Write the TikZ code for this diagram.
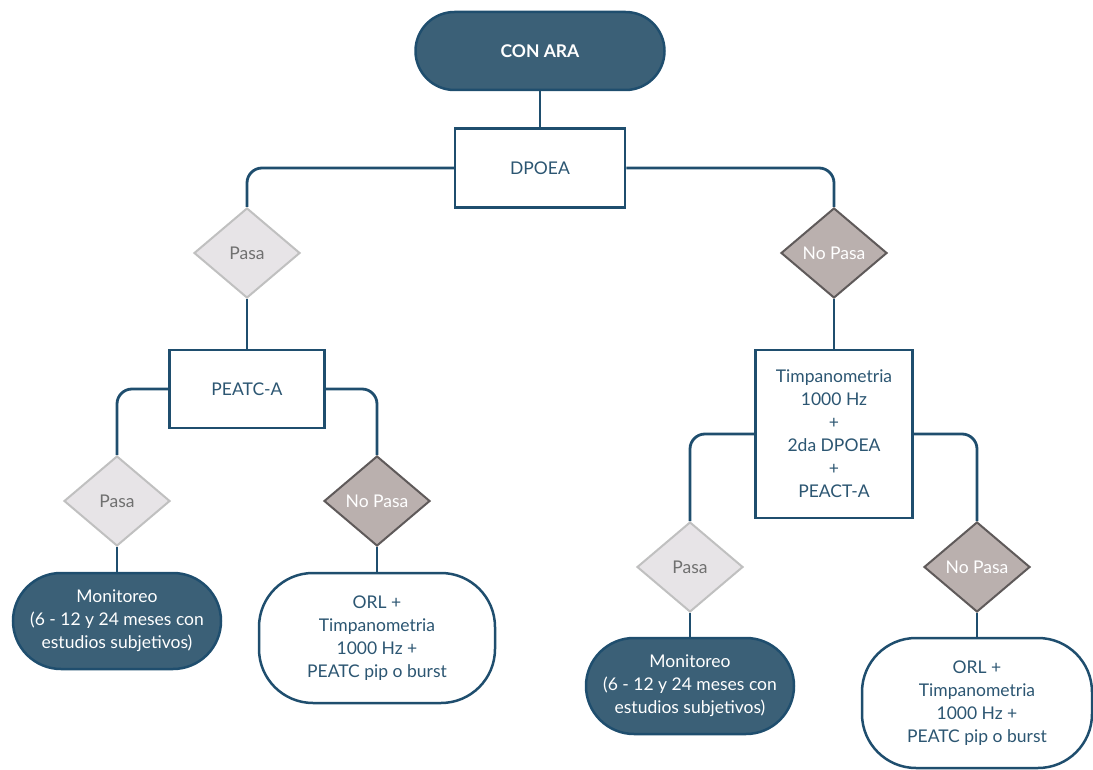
\documentclass[tikz,border=0pt]{standalone}
\usepackage{fontspec}
\setmainfont{Lato}
\usetikzlibrary{shapes.geometric,backgrounds}
\definecolor{navyfill}{RGB}{59,96,119}
\definecolor{navyline}{RGB}{31,78,110}
\definecolor{boxtext}{RGB}{44,86,114}
\definecolor{pasafill}{RGB}{231,228,231}
\definecolor{pasaline}{RGB}{192,192,192}
\definecolor{pasatext}{RGB}{112,112,112}
\definecolor{nopasafill}{RGB}{186,176,174}
\definecolor{nopasaline}{RGB}{95,90,90}
\begin{document}
\begin{tikzpicture}[x=1pt, y=-1pt,
        every node/.style={font=\fontsize{17.5}{23}\selectfont, align=center},
        startnode/.style={rectangle, rounded corners=39pt, draw=navyline, line width=2.5pt, fill=navyfill, text=white, minimum width=249pt, minimum height=78pt},
        endnode/.style={rectangle, rounded corners=48pt, draw=navyline, line width=2.5pt, fill=navyfill, text=white, minimum width=208pt, minimum height=96pt},
        orlnode/.style={rectangle, rounded corners=54pt, draw=navyline, line width=2.5pt, fill=white, text=boxtext, minimum width=236pt, minimum height=130pt},
        testbox/.style={rectangle, draw=navyline, line width=2.5pt, fill=white, text=boxtext, minimum height=79pt},
        pasanode/.style={diamond, aspect=1.18, inner sep=0pt, draw=pasaline, line width=2pt, fill=pasafill, text=pasatext, minimum width=106pt, minimum height=90pt},
        nopasanode/.style={diamond, aspect=1.18, inner sep=0pt, draw=nopasaline, line width=2pt, fill=nopasafill, text=white, minimum width=106pt, minimum height=90pt},
        link/.style={draw=navyline, line width=2.8pt, rounded corners=15pt}]
        \useasboundingbox (0,0) rectangle (1093,770);
        \node[startnode] (conara) at (540,51) {\textbf{CON ARA}};
        \node[testbox, minimum width=170pt] (dpoea) at (540,168) {DPOEA};
        \node[pasanode] (pasaL) at (247,253) {Pasa};
        \node[nopasanode] (nopasaR) at (834,253) {No Pasa};
        \node[testbox, minimum width=155pt, minimum height=78pt] (peatc) at (247,389) {PEATC-A};
        \node[testbox, minimum width=157pt, minimum height=168pt] (timpan) at (834,434) {Timpanometria\\1000 Hz\\+\\2da DPOEA\\+\\PEACT-A};
        \node[pasanode] (pasaLL) at (117,501) {Pasa};
        \node[nopasanode] (nopasaLR) at (377,501) {No Pasa};
        \node[pasanode] (pasaRL) at (690,567) {Pasa};
        \node[nopasanode] (nopasaRR) at (977,567) {No Pasa};
        \node[endnode] (monitL) at (117,621) {Monitoreo\\(6 - 12 y 24 meses con\\estudios subjetivos)};
        \node[orlnode] (orlL) at (377,638) {ORL +\\Timpanometria\\1000 Hz +\\PEATC pip o burst};
        \node[endnode] (monitR) at (690,686) {Monitoreo\\(6 - 12 y 24 meses con\\estudios subjetivos)};
        \node[orlnode, minimum width=230pt] (orlR) at (977,703) {ORL +\\Timpanometria\\1000 Hz +\\PEATC pip o burst};
        \begin{scope}[on background layer]
        \draw[link] (conara.south) -- (dpoea.north);
        \draw[link] (dpoea.west) -| (pasaL.north);
        \draw[link] (dpoea.east) -| (nopasaR.north);
        \draw[link] (pasaL.south) -- (peatc.north);
        \draw[link] (nopasaR.south) -- (timpan.north);
        \draw[link] (peatc.west) -| (pasaLL.north);
        \draw[link] (peatc.east) -| (nopasaLR.north);
        \draw[link] (timpan.west) -| (pasaRL.north);
        \draw[link] (timpan.east) -| (nopasaRR.north);
        \draw[link] (pasaLL.south) -- (monitL.north);
        \draw[link] (nopasaLR.south) -- (orlL.north);
        \draw[link] (pasaRL.south) -- (monitR.north);
        \draw[link] (nopasaRR.south) -- (orlR.north);
        \end{scope}
\end{tikzpicture}
\end{document}
